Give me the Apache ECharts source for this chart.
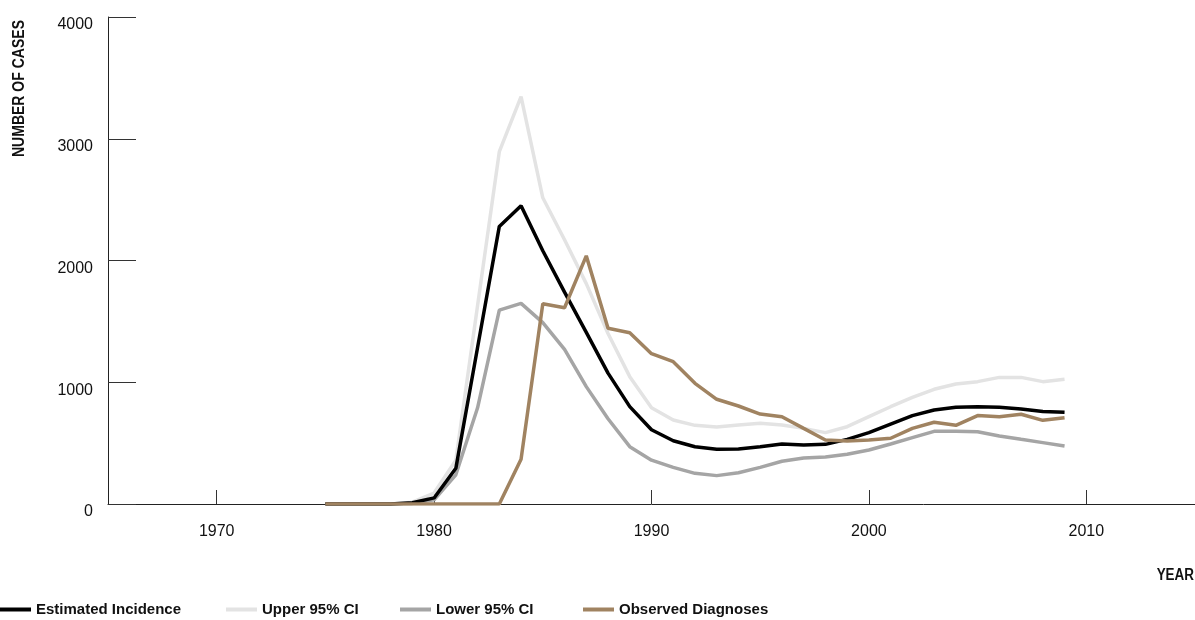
<!DOCTYPE html>
<html>
<head>
<meta charset="utf-8">
<script src="https://cdn.jsdelivr.net/npm/echarts@6/dist/echarts.min.js"></script>
<style>
html,body{margin:0;padding:0;background:#fff;}
#chart{width:1195px;height:620px;}
</style>
</head>
<body>
<div id="chart"></div>
<script>
var years = [1975,1976,1977,1978,1979,1980,1981,1982,1983,1984,1985,1986,1987,1988,1989,1990,1991,1992,1993,1994,1995,1996,1997,1998,1999,2000,2001,2002,2003,2004,2005,2006,2007,2008,2009];
var estimatedIncidence = [0,0,0,0,10, 50,293,1285,2280,2450, 2080,1740,1410,1075,800, 610,520,470,450,452, 470,493,485,490,531, 586,657,726,772,794, 799,794,780,760,753];
var upperCI = [0,0,0,0,15, 90,360,1630,2894,3346, 2515,2170,1810,1400,1046, 790,690,646,632,649, 663,649,621,586,635, 717,799,876,942,986, 1005,1040,1040,1005,1024];
var lowerCI = [0,0,0,0,5, 35,240,790,1593,1648, 1490,1270,964,700,471, 360,301,252,233,257, 301,351,378,386,408, 444,493,545,597,597, 594,559,531,504,476];
var observedDiagnoses = [0,0,0,0,0, 0,0,0,0,367, 1645,1612,2038,1443,1407, 1235,1169,991,860,805, 739,717,621,526,517, 526,540,621,671,646, 726,717,737,687,709];
var xTickValues = [1970,1980,1990,2000,2010];
var seriesNames = ['Estimated Incidence','Upper 95% CI','Lower 95% CI','Observed Diagnoses'];

var FONT = '"Liberation Sans",Arial,sans-serif';
function pairs(vals){ return years.map(function(y,i){ return [y, vals[i]]; }); }
function plain(v){ return String(v); }

var legendLefts = [0,226,400,583];
var legends = seriesNames.map(function(n,i){
  return {
    left:legendLefts[i], top:602, padding:0, icon:'rect', itemWidth:31, itemHeight:4, itemGap:5,
    data:[n],
    textStyle:{fontFamily:FONT, fontWeight:'bold', fontSize:15, color:'#111'}
  };
});

var chart = echarts.init(document.getElementById('chart'), null, {renderer:'canvas'});
chart.setOption({
  animation:false,
  backgroundColor:'#ffffff',
  grid:{left:108, right:0, top:17, bottom:116, containLabel:false},
  xAxis:{
    type:'value', min:1965, max:2015,
    axisLine:{lineStyle:{color:'#222', width:1}},
    axisTick:{inside:true, length:14, lineStyle:{color:'#333'}, customValues:xTickValues},
    axisLabel:{customValues:xTickValues, formatter:plain, margin:20, color:'#111', fontSize:16, fontFamily:FONT, verticalAlign:'top'},
    splitLine:{show:false}
  },
  yAxis:{
    type:'value', min:0, max:4000, interval:1000,
    axisLine:{show:true, lineStyle:{color:'#222', width:1}},
    axisTick:{show:true, inside:true, length:28, lineStyle:{color:'#333'}},
    axisLabel:{formatter:plain, margin:15, color:'#111', fontSize:16, fontFamily:FONT, verticalAlign:'top'},
    splitLine:{show:false}
  },
  legend:legends,
  graphic:[
    {type:'text', x:19, y:157, rotation:Math.PI/2, scaleX:0.824, style:{text:'NUMBER OF CASES', font:'bold 17px '+FONT, fill:'#111', align:'left', verticalAlign:'middle'}},
    {type:'text', x:1194, y:576, scaleX:0.84, style:{text:'YEAR', font:'bold 16px '+FONT, fill:'#111', align:'right', verticalAlign:'middle'}}
  ],
  series:[
    {name:seriesNames[0], type:'line', data:pairs(estimatedIncidence), showSymbol:false, symbol:'none', z:4, color:'#000000', lineStyle:{width:3.5, color:'#000000'}},
    {name:seriesNames[1], type:'line', data:pairs(upperCI), showSymbol:false, symbol:'none', z:2, color:'#e3e3e3', lineStyle:{width:3.5, color:'#e3e3e3'}},
    {name:seriesNames[2], type:'line', data:pairs(lowerCI), showSymbol:false, symbol:'none', z:3, color:'#a5a5a5', lineStyle:{width:3.5, color:'#a5a5a5'}},
    {name:seriesNames[3], type:'line', data:pairs(observedDiagnoses), showSymbol:false, symbol:'none', z:5, color:'#a08361', lineStyle:{width:3.5, color:'#a08361'}}
  ]
});
</script>
</body>
</html>
